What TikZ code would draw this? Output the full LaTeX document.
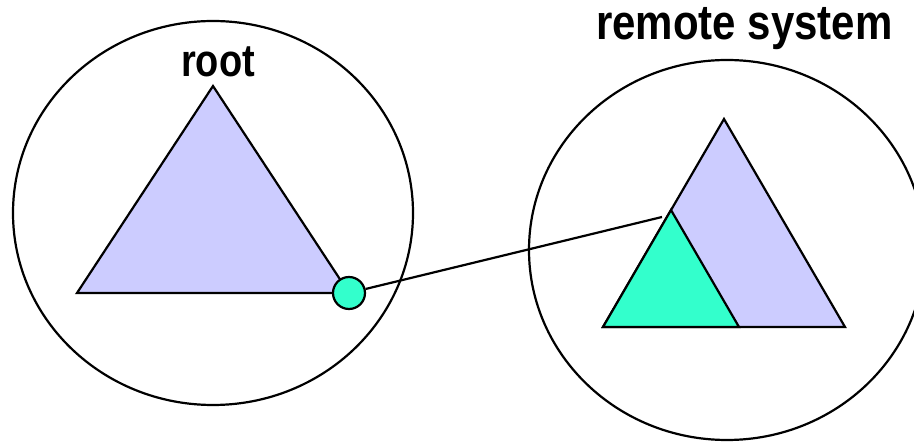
\documentclass[tikz,border=0pt]{standalone}
\usepackage{graphicx}
\usepackage{fontspec}
\setmainfont{Liberation Sans}
\definecolor{lav}{HTML}{CCCCFF}
\definecolor{mint}{HTML}{33FFCC}
\begin{document}
\begin{tikzpicture}[x=1pt,y=-1pt,
  outline/.style={draw=black,line width=2.2pt},
  tri/.style={outline,line join=miter},
  label/.style={font=\bfseries,inner sep=0pt,anchor=base},
  port/.style={circle,outline,fill=mint,minimum size=32pt,inner sep=0pt}]
\useasboundingbox (0,0) rectangle (914,443);
% coordinates
\coordinate (la) at (213,86);
\coordinate (lb) at (77,293);
\coordinate (lc) at (349,293);
\coordinate (ra) at (724,119);
\coordinate (rb) at (603,327);
\coordinate (rc) at (845,327);
\coordinate (ga) at (671,210);
\coordinate (gc) at (739,327);
\coordinate (lineend) at (662,217);
% circles
\draw[outline] (213,213) ellipse [x radius=200, y radius=192];
\draw[outline] (727,250) ellipse [x radius=198, y radius=190];
% triangles
\filldraw[tri,fill=lav] (la) -- (lb) -- (lc) -- cycle;
\filldraw[tri,fill=lav] (ra) -- (rb) -- (rc) -- cycle;
\filldraw[tri,fill=mint] (ga) -- (rb) -- (gc) -- cycle;
% port and connector
\node[port] (p) at (lc) {};
\draw[outline] (p) -- (lineend);
% labels
\node[label] (root) at (218,77) {\scalebox{1}[1.2]{\fontsize{38}{38}\selectfont root}};
\node[label] (remote) at (744.5,40) {\scalebox{1}[1.17]{\fontsize{42}{42}\selectfont remote system}};
\end{tikzpicture}
\end{document}
